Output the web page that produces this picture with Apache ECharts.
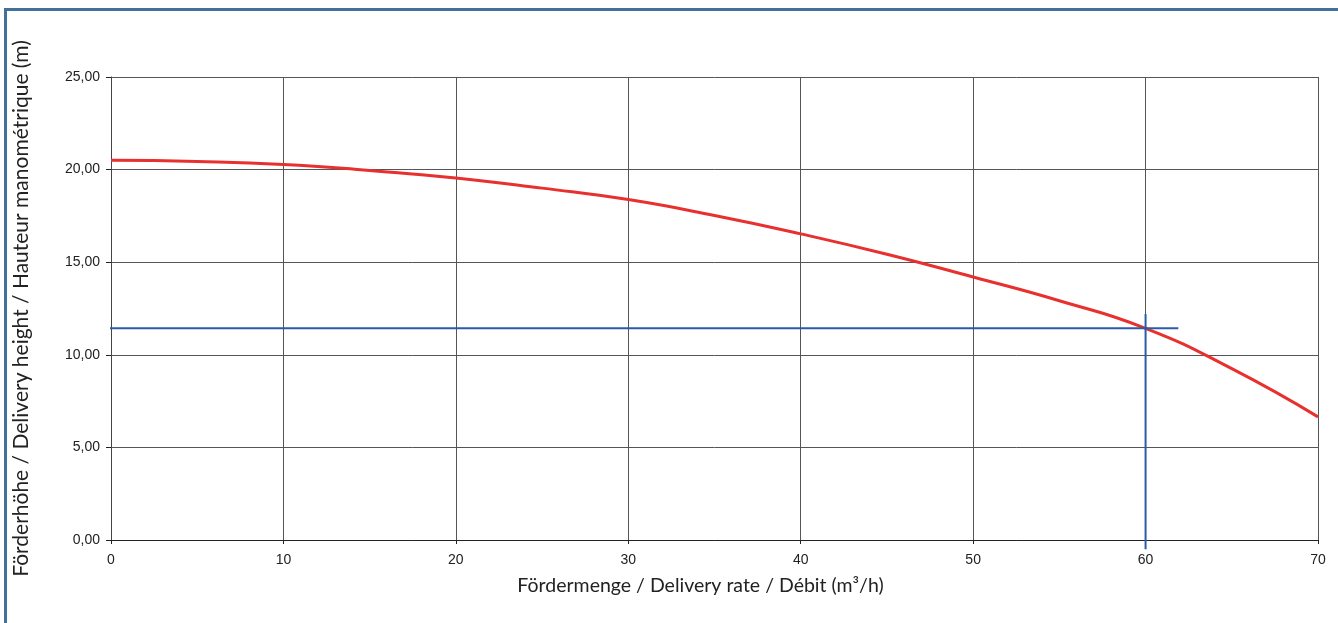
<!DOCTYPE html>
<html><head><meta charset="utf-8">
<script src="https://cdn.jsdelivr.net/npm/echarts@6/dist/echarts.min.js"></script>
<style>html,body{margin:0;padding:0;background:#fff;overflow:hidden}#c{width:1338px;height:623px}</style>
</head><body><div id="c"></div>
<script>
const flowRate = [0, 5, 10, 15, 20, 25, 30, 35, 40, 45, 50, 55, 60, 65, 70];
const head = [20.5, 20.44, 20.28, 19.95, 19.55, 19.0, 18.38, 17.52, 16.53, 15.43, 14.2, 12.92, 11.43, 9.25, 6.65];
const opPointX = [-0.7, 61.9];
const opPointY = [11.43, 11.43];
const opVertX = [60, 60];
const opVertY = [12.2, -0.5];
const xTicks = [0, 10, 20, 30, 40, 50, 60, 70];
const yTicks = [0, 5, 10, 15, 20, 25];

const chart = echarts.init(document.getElementById('c'), null, {renderer: 'canvas'});
const gridColor = '#555';
chart.setOption({
  animation: false,
  graphic: [{
    type: 'polyline', shape: {points: [[5.5, 640], [5.5, 9.5], [1345, 9.5]]},
    style: {fill: null, stroke: '#41709a', lineWidth: 3}, z: 100
  }],
  grid: {left: 111, right: 20, top: 77, bottom: 83},
  xAxis: {
    type: 'value', min: 0, max: 70, interval: 10,
    name: 'Fördermenge / Delivery rate / Débit (m³/h)',
    nameLocation: 'middle', nameGap: 36,
    nameTextStyle: {fontFamily: 'Lato', fontSize: 19.5, color: '#222', padding: [0, 28, 0, 0]},
    axisLine: {onZero: false, lineStyle: {color: '#222', width: 1}},
    axisTick: {show: true, length: 4, lineStyle: {color: '#222'}},
    axisLabel: {fontFamily: 'Liberation Sans', fontSize: 14, color: '#222', margin: 13},
    splitLine: {show: true, lineStyle: {color: gridColor, width: 1}}
  },
  yAxis: {
    type: 'value', min: 0, max: 25, interval: 5,
    name: 'Förderhöhe / Delivery height / Hauteur manométrique (m)',
    nameLocation: 'middle', nameGap: 79,
    nameTextStyle: {fontFamily: 'Lato', fontSize: 21, color: '#222'},
    axisLine: {show: true, lineStyle: {color: '#444', width: 1}},
    axisTick: {show: true, length: 5, lineStyle: {color: '#222'}},
    axisLabel: {fontFamily: 'Liberation Sans', fontSize: 14, color: '#222', margin: 11,
      formatter: v => v.toFixed(2).replace('.', ',')},
    splitLine: {show: true, lineStyle: {color: gridColor, width: 1}}
  },
  series: [
    {
      type: 'line', data: flowRate.map((x, i) => [x, head[i]]),
      smooth: 0.5, showSymbol: false, lineStyle: {color: '#e8302e', width: 3}, z: 3
    },
    {
      type: 'line', data: opPointX.map((x, i) => [x, opPointY[i]]), clip: false,
      showSymbol: false, lineStyle: {color: '#2b5ba6', width: 2}, z: 4
    },
    {
      type: 'line', data: opVertX.map((x, i) => [x, opVertY[i]]), clip: false,
      showSymbol: false, lineStyle: {color: '#2b5ba6', width: 2}, z: 4
    }
  ]
});
</script></body></html>
